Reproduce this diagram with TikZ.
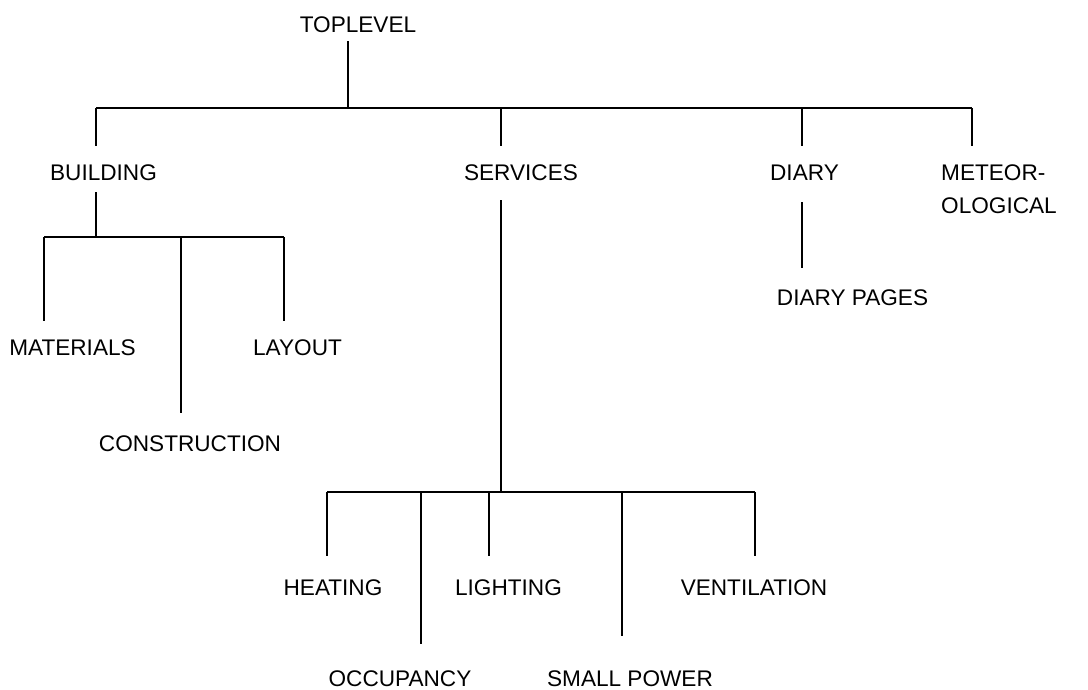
\documentclass[tikz,border=0pt]{standalone}
\usepackage{fontspec}
\setmainfont{Liberation Sans}
\begin{document}
\begin{tikzpicture}[x=1pt,y=-1pt,
  lbl/.style={inner sep=0pt, anchor=base, font=\fontsize{22.6}{33}\selectfont},
  conn/.style={line width=1.2pt, line cap=butt}]
\useasboundingbox (0,0) rectangle (1088,689);
% nodes
\node[lbl] (toplevel) at (358,32) {TOPLEVEL};
\node[lbl] (building) at (103.5,180) {BUILDING};
\node[lbl] (services) at (521,180) {SERVICES};
\node[lbl] (diary) at (804.5,180) {DIARY};
\node[lbl, anchor=base west, align=left] (meteo) at (941,213) {METEOR-\\OLOGICAL};
\node[lbl] (materials) at (72.5,355) {MATERIALS};
\node[lbl] (layout) at (297.5,355) {LAYOUT};
\node[lbl] (construction) at (190,451) {CONSTRUCTION};
\node[lbl] (diarypages) at (852.5,305) {DIARY PAGES};
\node[lbl] (heating) at (333,595) {HEATING};
\node[lbl] (lighting) at (508.5,595) {LIGHTING};
\node[lbl] (ventilation) at (754,595) {VENTILATION};
\node[lbl] (occupancy) at (400,686) {OCCUPANCY};
\node[lbl] (smallpower) at (630,686) {SMALL POWER};
% connector points
\coordinate (tlOut) at (348,41);
\coordinate (tlJ) at (348,108);
\coordinate (barL) at (96,108);
\coordinate (barR) at (972,108);
\coordinate (buIn) at (96,146);
\coordinate (seTop) at (501,108);
\coordinate (seIn) at (501,146);
\coordinate (diTop) at (802,108);
\coordinate (diIn) at (802,146);
\coordinate (meIn) at (972,146);
% building subtree
\coordinate (buOut) at (96,192);
\coordinate (buJ) at (96,237);
\coordinate (bbL) at (44,237);
\coordinate (bbR) at (284,237);
\coordinate (maIn) at (44,321);
\coordinate (coTop) at (181,237);
\coordinate (coIn) at (181,413);
\coordinate (laIn) at (284,321);
% services subtree
\coordinate (seOut) at (501,200);
\coordinate (seJ) at (501,492);
\coordinate (sbL) at (327,492);
\coordinate (sbR) at (755,492);
\coordinate (heIn) at (327,556);
\coordinate (ocTop) at (421,492);
\coordinate (ocIn) at (421,644);
\coordinate (liTop) at (489,492);
\coordinate (liIn) at (489,556);
\coordinate (spTop) at (622,492);
\coordinate (spIn) at (622,636);
\coordinate (veIn) at (755,556);
% diary
\coordinate (diOut) at (802,202);
\coordinate (dpIn) at (802,268);
% connectors
\draw[conn] (tlOut) -- (tlJ);
\draw[conn] (barL) -- (barR);
\draw[conn] (barL) -- (buIn);
\draw[conn] (seTop) -- (seIn);
\draw[conn] (diTop) -- (diIn);
\draw[conn] (barR) -- (meIn);
\draw[conn] (buOut) -- (buJ);
\draw[conn] (bbL) -- (bbR);
\draw[conn] (bbL) -- (maIn);
\draw[conn] (coTop) -- (coIn);
\draw[conn] (bbR) -- (laIn);
\draw[conn] (seOut) -- (seJ);
\draw[conn] (sbL) -- (sbR);
\draw[conn] (sbL) -- (heIn);
\draw[conn] (ocTop) -- (ocIn);
\draw[conn] (liTop) -- (liIn);
\draw[conn] (spTop) -- (spIn);
\draw[conn] (sbR) -- (veIn);
\draw[conn] (diOut) -- (dpIn);
\end{tikzpicture}
\end{document}
